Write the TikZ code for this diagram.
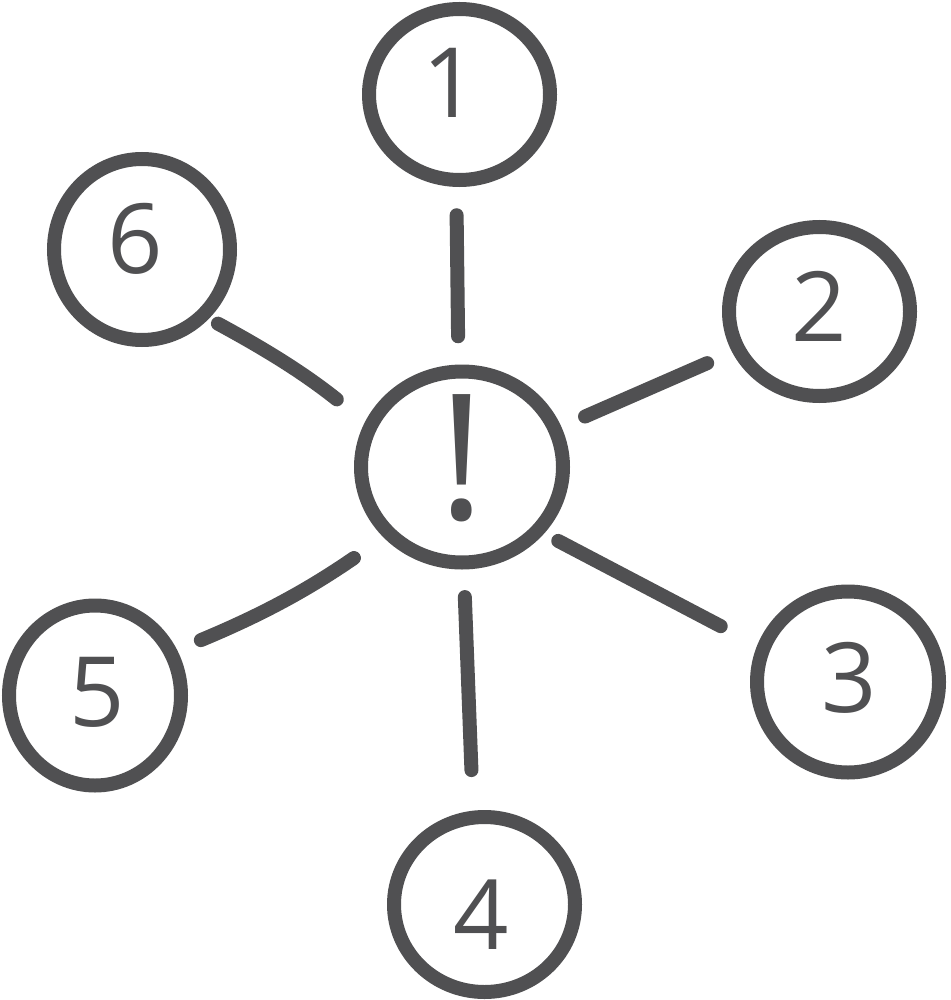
\documentclass[tikz,border=0pt]{standalone}
\usepackage{fontspec}
\newfontfamily\numfont{Open Sans}
\usetikzlibrary{shapes.geometric}
\definecolor{ink}{HTML}{505052}
\begin{document}
\begin{tikzpicture}[x=1pt,y=-1pt,
  bub/.style={ellipse, draw=ink, line width=14pt, inner sep=0pt, outer sep=7pt},
  num/.style={font=\numfont\fontsize{97}{97}\selectfont, text=ink, inner sep=0pt},
  bang/.style={font=\numfont\fontsize{175}{175}\selectfont, text=ink, inner sep=0pt},
  link/.style={draw=ink, line width=14pt, line cap=round}]
\fill[white] (0,0) rectangle (950,1000);
\useasboundingbox (0,0) rectangle (950,1000);

\node[bub, minimum width=202pt, minimum height=191pt,
      label={[bang, yshift=8.5pt]center:!}] (c) at (462,467) {};
\node[bub, minimum width=181pt, minimum height=171pt,
      label={[num, xshift=-9pt, yshift=12pt]center:1}] (n1) at (459.5,94.5) {};
\node[bub, minimum width=181pt, minimum height=169pt,
      label={[num, yshift=5pt]center:2}] (n2) at (819.5,311.5) {};
\node[bub, minimum width=182pt, minimum height=181pt,
      label={[num, xshift=1.5pt, yshift=4.5pt]center:3}] (n3) at (848,682) {};
\node[bub, minimum width=181pt, minimum height=175pt,
      label={[num, xshift=-3.5pt, yshift=-10.5pt]center:4}] (n4) at (484.5,904.5) {};
\node[bub, minimum width=172pt, minimum height=180pt,
      label={[num, xshift=2.5pt, yshift=3pt]center:5}] (n5) at (95,695.5) {};
\node[bub, minimum width=176pt, minimum height=181pt,
      label={[num, xshift=-7pt, yshift=11pt]center:6}] (n6) at (142,249.5) {};

\draw[link, shorten <=28.3pt, shorten >=28.3pt] (c.92.5) -- (n1.268.1);
\draw[link, shorten <=25.8pt, shorten >=27.3pt] (c.22.9) -- (n2.205.7);
\draw[link, shorten <=15.9pt, shorten >=41.2pt] (c.321.7) -- (n3.158.5);
\draw[link, shorten <=27.6pt, shorten >=40.6pt] (c.271.3) -- (n4.97.0);
\draw[link, shorten <=36.1pt, shorten >=25.7pt] (c.222.0) to[bend left=6] (n5.29.7);
\draw[link, shorten <=36.1pt, shorten >=10.3pt] (c.155.0) to[bend right=5] (n6.314.9);
\end{tikzpicture}
\end{document}
